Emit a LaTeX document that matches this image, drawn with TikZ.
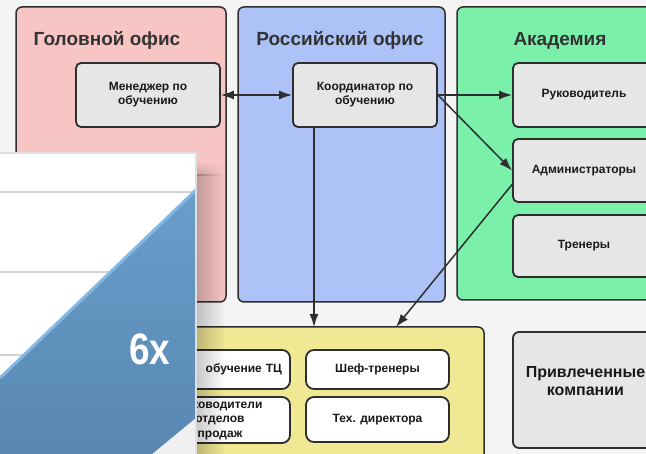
\documentclass[tikz,border=0pt]{standalone}
\usepackage{fontspec}
\setmainfont{Liberation Sans}
\usetikzlibrary{arrows.meta,positioning}
\definecolor{bgcol}{HTML}{F4F4F4}
\definecolor{hqcol}{HTML}{F8C5C5}
\definecolor{rucol}{HTML}{ADC2F7}
\definecolor{acadcol}{HTML}{7BF0AA}
\definecolor{shopcol}{HTML}{F1E894}
\definecolor{postcol}{HTML}{E6E6E6}
\definecolor{linecol}{HTML}{2E2E2E}
\definecolor{barcol}{HTML}{6A9ECB}
\definecolor{bardark}{HTML}{5886B1}
\definecolor{baredge}{HTML}{82B8E6}
\tikzset{
    orgchart/.style={x=1pt,y=-1pt,font=\bfseries\fontsize{12}{14}\selectfont},
    unit/.style={draw=linecol,rounded corners=6pt,line width=1.5pt,inner sep=0pt},
    unittitle/.style={anchor=base,text=black!80,font=\bfseries\fontsize{19}{22}\selectfont},
    post/.style={draw=linecol,fill=postcol,rounded corners=5pt,line width=1.8pt,
                 align=center,inner sep=0pt,text=black!90},
    shoppost/.style={post,fill=white,rounded corners=8pt},
    link/.style={-{Latex[length=13pt,width=9pt]},draw=linecol,line width=1.5pt},
    twoway/.style={link,{Latex[length=13pt,width=9pt]}-{Latex[length=13pt,width=9pt]}},
    }

\begin{document}
\begin{tikzpicture}[orgchart]
    \useasboundingbox (0,0) rectangle (646,454);
    \clip (0,0) rectangle (646,454);
    \fill[bgcol] (0,0) rectangle (646,454);

    % departments
    \node[unit,fill=hqcol,minimum width=210pt,minimum height=295pt] (hq) at (121,154.5) {};
    \node[unit,fill=rucol,minimum width=207pt,minimum height=295pt] (ru) at (341.5,154.5) {};
    \node[unit,fill=acadcol,minimum width=223pt,minimum height=293pt] (acad) at (568.5,153.5) {};
    \node[unit,fill=shopcol,minimum width=354pt,minimum height=143pt] (shop) at (307,398.5) {};
    \node[unit,fill=postcol,line width=1.8pt,minimum width=152pt,minimum height=116pt] (ext) at (589,390) {};

    \node[unittitle] (hqtitle) at (107,46) {Головной офис};
    \node[unittitle] (rutitle) at (340,46) {Российский офис};
    \node[unittitle] (acadtitle) at (560,46) {Академия};
    \node[align=center,text=black!90,font=\bfseries\fontsize{16}{17.5}\selectfont] (extlabel) at (585.5,381) {Привлеченные\\компании};

    % posts
    \node[post,minimum width=144pt,minimum height=64pt] (mgr) at (148,95) {Менеджер по\\обучению};
    \node[post,minimum width=144pt,minimum height=64pt] (coord) at (365,95) {Координатор по\\обучению};
    \node[post,minimum width=142pt,minimum height=64pt] (head) at (584,95) {Руководитель};
    \node[post,minimum width=142pt,minimum height=63pt] (admin) at (584,170.5) {Администраторы};
    \node[post,minimum width=142pt,minimum height=62pt] (trainer) at (584,246) {Тренеры};
    \node[shoppost,minimum width=140pt,minimum height=39pt,inner xsep=8pt,text width=124pt,align=right] (tc) at (220,369.5) {обучение ТЦ};
    \node[shoppost,minimum width=140pt,minimum height=46pt,font=\bfseries\fontsize{12}{14.5}\selectfont] (sales) at (220,420) {Руководители\\отделов\\продаж};
    \node[shoppost,minimum width=143pt,minimum height=39pt] (chef) at (377.5,369.5) {Шеф-тренеры};
    \node[shoppost,minimum width=143pt,minimum height=45pt] (tech) at (377.5,419.5) {Тех. директора};

    \coordinate (drop) at (314,327);
    \coordinate (shopin) at (396,327);

    \draw[twoway] (mgr) -- (coord);
    \draw[link] (coord) -- (head);
    \draw[link] (coord.east) -- (admin.west);
    \draw[link] (admin.191) -- (shopin);
    \draw[link] (coord.south -| drop) -- (drop);

    % chart picture over the lower left
    \foreach \i [evaluate=\i as \op using 0.22*(1-\i/15)] in {1,...,14}{
        \fill[black,opacity=\op] ({195+2*\i},174) rectangle ({197+2*\i},460);
        \foreach \j in {1,...,7}
            \fill[black,opacity={\op*\j/8}] ({195+2*\i},{160+2*\j}) rectangle ({197+2*\i},{162+2*\j});
    }
    \fill[white] (-5,153) rectangle (196,460);
    \foreach \gy in {192,272,355}
        \draw[black!18,line width=1.5pt] (0,\gy) -- (194,\gy);
    \shade[top color=barcol,bottom color=bardark] (196,190) -- (0,378) -- (0,460) -- (196,460) -- cycle;
    \draw[baredge,line width=3pt] (196,190) -- (0,378);
    \fill[black!6] (196,418) -- (196,460) -- (145,460) -- cycle;
    \node[anchor=base,text=white,xscale=0.88,yscale=1.05,font=\bfseries\fontsize{42}{42}\selectfont] (sixx) at (150,365) {6x};
    \draw[black!13,line width=2pt] (-5,153) -- (196,153) -- (196,460);
\end{tikzpicture}
\end{document}
